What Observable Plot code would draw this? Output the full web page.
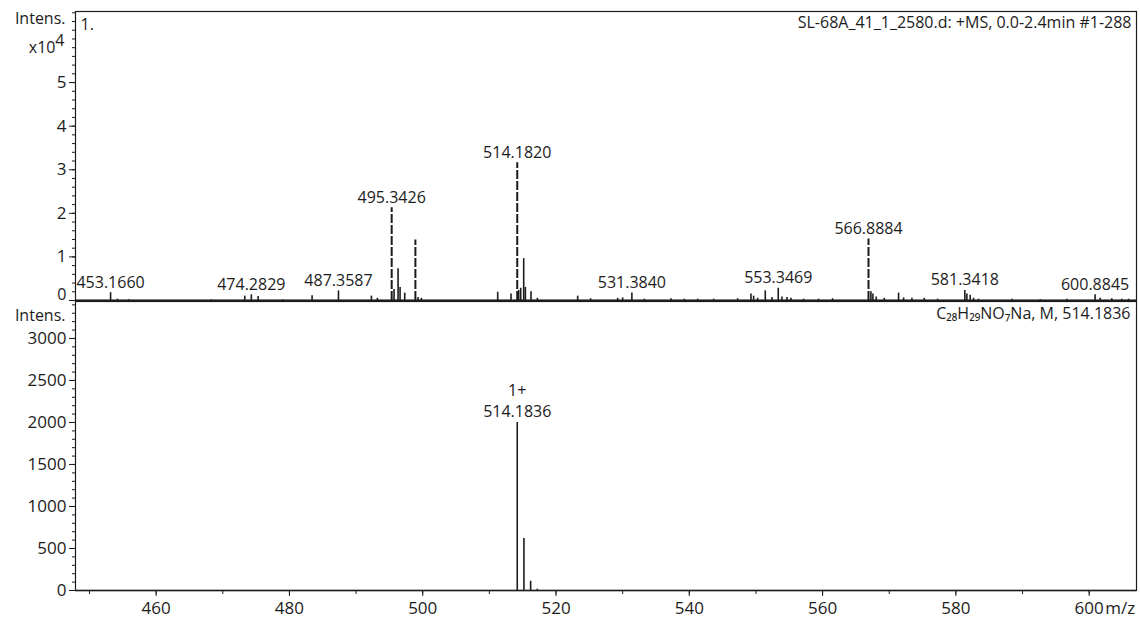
<!DOCTYPE html>
<html>
<head>
<meta charset="utf-8">
<script src="https://cdn.jsdelivr.net/npm/d3@7"></script>
<script src="https://cdn.jsdelivr.net/npm/@observablehq/plot@0.6"></script>
<style>
  html, body { margin: 0; padding: 0; background: #fff; }
  #chart { position: relative; width: 1140px; height: 619px; }
  #chart svg { position: absolute; left: 0; display: block; }
</style>
</head>
<body>
<div id="chart"></div>
<script>
// Measured spectrum (+MS, 0.0-2.4 min): centroid m/z and intensity (counts)
const measuredMz = [
  453.1660, 454.2, 455.9, 468.3, 473.3, 474.2829, 475.3, 479.0, 483.4, 487.3587,
  492.3, 493.2, 495.3426, 495.7, 496.3, 496.6, 497.3, 498.9, 499.3, 499.8,
  511.25, 513.25, 514.1820, 514.4, 514.7, 515.15, 515.4, 516.25, 517.2,
  523.25, 525.2, 529.25, 530.0, 531.3840, 533.25, 537.25, 539.25, 541.25, 543.65,
  547.25, 549.25, 549.65, 550.25, 551.4, 552.4, 553.3469, 553.9, 554.65, 555.25,
  557.15, 559.4, 561.5, 566.8884, 567.25, 567.55, 568.05, 569.25, 571.4, 572.15,
  573.4, 575.25, 577.25, 581.3418, 581.65, 582.15, 582.65, 583.4, 588.4, 592.65,
  596.65, 600.8845, 601.65, 603.4, 604.9, 605.9
];
const measuredInt = [
  1800, 300, 200, 150, 1000, 1300, 900, 150, 1100, 2200,
  1000, 500, 21300, 2500, 7300, 3000, 1700, 13900, 700, 500,
  1900, 1500, 31600, 2300, 2800, 9600, 3000, 2000, 500,
  1000, 400, 500, 600, 1700, 300, 400, 300, 300, 300,
  400, 1500, 1000, 500, 2200, 700, 2800, 800, 700, 500,
  300, 300, 400, 14100, 2000, 1500, 800, 500, 1700, 600,
  500, 500, 300, 2300, 1500, 1200, 500, 300, 300, 200,
  300, 1300, 500, 400, 300, 300
];
// Annotated peaks of the measured spectrum
const labeledMz = [453.1660, 474.2829, 487.3587, 495.3426, 514.1820, 531.3840,
                   553.3469, 566.8884, 581.3418, 600.8845];

// Simulated isotope pattern for C28H29NO7Na (M, 514.1836)
const simMz = [514.1836, 515.1870, 516.1900, 517.1930];
const simInt = [2000, 620, 110, 15];
const simCharge = "1+";

// Axis ticks
const topMajor = [0, 10000, 20000, 30000, 40000, 50000];
const topMinor = d3.range(0, 66001, 2000);
const botMajor = [0, 500, 1000, 1500, 2000, 2500, 3000];
const botMinor = d3.range(0, 3401, 100);
const xMajor = [460, 480, 500, 520, 540, 560, 580, 600];
const xMinor = d3.range(450, 607, 10);

const titleText = "SL-68A_41_1_2580.d: +MS, 0.0-2.4min #1-288";
const formulaText = "C₂₈H₂₉NO₇Na, M, 514.1836";

// Tables built from the arrays above
const measured = measuredMz.map((mz, i) => ({mz, int: measuredInt[i]}));
const labels = labeledMz.map(mz => ({mz, int: measured.find(d => d.mz === mz).int, text: mz.toFixed(4)}));
const simulated = simMz.map((mz, i) => ({mz, int: simInt[i]}));

const FONT = "'Open Sans', 'DejaVu Sans', sans-serif";
const INK = "#1c1c1c";
const mzDomain = [447.9, 607.1];

const spectrumPanel = Plot.plot({
  width: 1140, height: 301,
  marginTop: 11, marginBottom: 1, marginLeft: 75, marginRight: 4,
  x: {domain: mzDomain, axis: null},
  y: {domain: [0, 66300], axis: null},
  style: {fontFamily: FONT, color: INK, background: "transparent", overflow: "visible"},
  marks: [
    Plot.frame({stroke: INK, strokeWidth: 1.2}),
    // zero label sits a little above its tick so it clears the lower panel's title
    Plot.axisY({ticks: topMajor, tickSize: 6, tickPadding: 3, fontSize: 17,
                tickFormat: d => d === 0 ? "" : d / 1e4, label: null}),
    Plot.text([0], {y: d => d, frameAnchor: "left", dx: -9, dy: -6, textAnchor: "end",
                    lineAnchor: "middle", fontSize: 16, fill: INK, text: d => String(d)}),
    Plot.axisY({ticks: topMinor, tickSize: 3, tickFormat: () => "", label: null}),
    Plot.ruleX(measured.filter(d => d.int < 10000), {x: "mz", y1: 0, y2: "int", stroke: INK, strokeWidth: 1.6}),
    Plot.ruleX(measured.filter(d => d.int >= 10000), {x: "mz", y1: 0, y2: "int", stroke: INK, strokeWidth: 2,
                strokeDasharray: "9,2"}),
    Plot.ruleY([0], {stroke: INK, strokeWidth: 2}),
    Plot.text(labels, {x: "mz", y: "int", text: "text", dy: -5, lineAnchor: "bottom",
                       fontSize: 16, fill: INK}),
    Plot.text(["1."], {frameAnchor: "top-left", dx: 5, dy: 13, lineAnchor: "middle",
                       textAnchor: "start", fontSize: 16, fill: INK}),
    Plot.text([titleText], {frameAnchor: "top-right", dx: -5, dy: 11, lineAnchor: "middle",
                            textAnchor: "end", fontSize: 16, fill: INK}),
    Plot.text(["Intens."], {frameAnchor: "top-left", dx: -10, dy: 7, lineAnchor: "middle",
                            textAnchor: "end", fontSize: 16, fill: INK}),
    Plot.text(["x10"], {frameAnchor: "top-left", dx: -20, dy: 36, lineAnchor: "middle",
                        textAnchor: "end", fontSize: 16, fill: INK}),
    Plot.text(["4"], {frameAnchor: "top-left", dx: -11, dy: 29, lineAnchor: "middle",
                      textAnchor: "end", fontSize: 16, fill: INK})
  ]
});

const isotopePanel = Plot.plot({
  width: 1140, height: 319,
  marginTop: 1, marginBottom: 29, marginLeft: 75, marginRight: 4,
  x: {domain: mzDomain},
  y: {domain: [0, 3440]},
  style: {fontFamily: FONT, color: INK, background: "transparent", overflow: "visible"},
  marks: [
    Plot.frame({stroke: INK, strokeWidth: 1.2}),
    Plot.axisY({ticks: botMajor, tickSize: 6, tickPadding: 3, fontSize: 17,
                tickFormat: d => String(d), label: null}),
    Plot.axisY({ticks: botMinor, tickSize: 3, tickFormat: () => "", label: null}),
    Plot.axisX({ticks: xMajor, tickSize: 6, tickPadding: 5, fontSize: 17,
                tickFormat: d => String(d), label: null}),
    Plot.axisX({ticks: xMinor, tickSize: 4, tickFormat: () => "", label: null}),
    Plot.ruleX(simulated, {x: "mz", y1: 0, y2: "int", stroke: INK, strokeWidth: 1.6}),
    Plot.ruleY([0], {stroke: INK, strokeWidth: 1.5}),
    Plot.text([simulated[0]], {x: "mz", y: "int", text: d => d.mz.toFixed(4), dy: -5,
                               lineAnchor: "bottom", fontSize: 16, fill: INK}),
    Plot.text([simulated[0]], {x: "mz", y: "int", text: () => simCharge, dy: -26,
                               lineAnchor: "bottom", fontSize: 16, fill: INK}),
    Plot.text(["m/z"], {x: () => 600, frameAnchor: "bottom", dx: 16, dy: 11, lineAnchor: "top",
                        textAnchor: "start", fontSize: 17, fill: INK}),
    Plot.text(["Intens."], {frameAnchor: "top-left", dx: -10, dy: 14, lineAnchor: "middle",
                            textAnchor: "end", fontSize: 16, fill: INK}),
    Plot.text([formulaText], {frameAnchor: "top-right", dx: -6, dy: 12, lineAnchor: "middle",
                              textAnchor: "end", fontSize: 16, fill: INK})
  ]
});

spectrumPanel.style.top = "0px";
isotopePanel.style.top = "300px";
document.getElementById("chart").append(spectrumPanel, isotopePanel);
</script>
</body>
</html>
